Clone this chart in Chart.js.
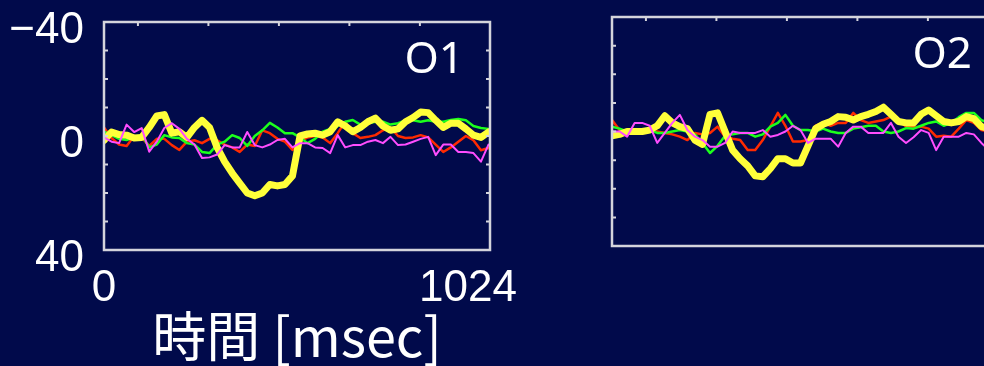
<!DOCTYPE html>
<html>
<head>
<meta charset="utf-8">
<script src="https://cdn.jsdelivr.net/npm/chart.js@4.4.1/dist/chart.umd.min.js"></script>
<style>
    html, body { margin: 0; padding: 0; background: #010a4b; overflow: hidden; width: 984px; height: 366px; }
    #o1 { position: absolute; left: 0; top: 0; }
    #o2 { position: absolute; left: 600px; top: 0; }
</style>
</head>
<body>
<canvas id="o1" width="560" height="366"></canvas>
<canvas id="o2" width="410" height="366"></canvas>
<script>
// time axis (msec)
const times = [0, 20, 40, 60, 80, 100, 120, 140, 160, 180, 200, 220, 240, 260, 280, 300, 320, 340, 360, 380,
    400, 420, 440, 460, 480, 500, 520, 540, 560, 580, 600, 620, 640, 660, 680, 700, 720, 740, 760, 780,
    800, 820, 840, 860, 880, 900, 920, 940, 960, 980, 1000, 1020];

const xLabels = [0, 1024];
const yLabels = [-40, 0, 40];
const xMarks = [90, 277, 464, 651, 838];
const yMarks = [-30, -20, -10, 0, 10, 20, 30];

// O1
const o1Yellow = [1.5, -1.4, -0.5, -0.3, 0.7, 0.5, -3, -7, -7.5, -1, -1.5, 0.5, -3, -5.5, -3, 4, 9, 13, 16.5, 20,
    21, 20, 17, 17.5, 17, 14, 0, -0.7, -1, -0.3, -1.5, -5, -3.5, -1.5, -3, -5, -6.3, -3.5, -2, -2.5,
    -5, -6.5, -8.4, -8.2, -5.5, -3, -4.5, -4.5, -2.5, -0.3, 0.5, -1.4];
const o1Red = [-3, 0.7, 3, 3.5, 0, 0.5, 3.5, 1, 1, 3.2, 4.9, 2, 1.5, 2.5, 1, 1.5, 3, 4, 5.6, 3,
    3.5, -2, -1, 1, 2, 4.9, 2, 0.5, 0, 0.5, 2.5, -1, -5, -1, 0.7, 0.3, -0.3, -2, -3, 0,
    0.7, 0.5, -0.3, 0.5, 3, 5.6, 4, 2, 0, 1.5, 5, 4.2];
const o1Green = [-1.5, -0.3, 1, 1.4, 0.5, -0.5, 4, 3, -0.3, 0.5, 0.7, 2.5, 3, 5.6, 6, 3, 2, -0.3, 0.7, 3.5,
    0, -2, -4.6, -3, -1, -1, 0.5, 2.5, 1, -1.5, -2.5, -3.5, -5, -5.6, -4, -4.5, -5, -5, -4, -4.5,
    -5.5, -5.5, -5, -5.5, -5, -5, -5.6, -6, -5.5, -3.5, -2.8, -2.5];
const o1Magenta = [0.5, 2, 2.5, -4, -1.4, -2.8, 5.5, 2, -2.8, -4.5, -2.5, 1, 3, 7.7, 7.5, 6.5, 3.2, 4, 4, -1.4,
    3.2, 4, 3, 1.4, 1, 4, 2.5, 2.5, 4, 4.2, 6, -0.3, 4, 3.2, 3.2, 2, 1.4, 2.5, 0.3, 3.2,
    3, 2, 1, 0.3, 6.7, 3, 3, 5.6, 5.6, 6, 9, 3];

// O2
const o2Yellow = [1.5, 1, 0, 0, 0, -0.5, -2, -5.5, -3, -1.7, -1, 3, 4.5, -6, -6.5, 0, 6.5, 9.5, 12, 15.5,
    15.8, 13, 9.5, 9.5, 11, 11, 5, -1, -2.5, -3.5, -5.2, -5, -4, -5.2, -6, -7, -8.5, -6, -3.5, -3,
    -3, -6, -7.5, -5.5, -3.5, -3, -3.5, -5.2, -4.5, -1.7, -1, -1];
const o2Red = [-4, -0.5, 0, 0.5, -0.5, 0, 0, 0.5, 1, 1.8, 3, 0.5, 1, 0.5, -1.7, 1.8, 2.5, 3, 6.5, 6.5,
    3, -1.7, -6.5, -2, 3.5, 3.5, 3, -2, -3, -2, -3, -3, -6.5, -4, -3, -3.5, -4, -5.2, -4, -1.7,
    -1.5, -1.7, -1, 1.8, 1.5, 1.8, -1, -4, -3, -0.5, 0, 0];
const o2Green = [-1.7, -1, 0, 0, 0.5, -0.5, 0.5, 0.5, 0, -0.5, 0, 1, 4, 7.5, 5, 1.5, 1, 0.5, 0.5, 1.8,
    1, -1.7, -3, -5.8, -2, -0.5, -0.5, 0, -1, 0, 0.5, 0.5, -1, -1.5, -2, -2, 0, 0.5, 0, -1.2,
    -1, -2, -3, -3.5, -2, -3, -5, -6.5, -6.5, -4, -3, -3];
const o2Magenta = [0, 0, 1.8, -3, -3, -2, 4, 0.5, -3, -5.8, -0.5, 1.8, 3, 5.3, 5.3, 4, 0, 0.5, 0.5, 0.5,
    -0.5, 1.8, 1.2, 0, -2, -0.5, 4, 2.5, 2.5, 2.5, 5.3, 0.5, -1.7, -1.7, 0.5, 0.5, 0.5, -3, 1.8, 4,
    2, -0.5, 0.5, 6.5, 1.8, 1.8, 1.8, 0.5, 1, 4, 6.5, 4];

const frameColor = '#d4d4dc';
const tickFont = { family: "'Liberation Sans', Arial, sans-serif", size: 44 };

function series(values) {
    return values.map((v, i) => ({ x: times[i], y: v }));
}

function makeDatasets(yellow, red, green, magenta) {
    // first dataset ends up on top
    return [
        { data: series(magenta), borderColor: '#ff4dff', borderWidth: 2 },
        { data: series(yellow), borderColor: '#ffff3a', borderWidth: 7 },
        { data: series(green), borderColor: '#1cff1c', borderWidth: 2.5 },
        { data: series(red), borderColor: '#ff2a00', borderWidth: 2.5 }
    ];
}

const frame = {
    id: 'frame',
    afterDraw(chart, args, opts) {
        const { ctx, chartArea: a, scales } = chart;
        ctx.save();
        ctx.strokeStyle = frameColor;
        ctx.lineWidth = 2.5;
        ctx.strokeRect(a.left, a.top, a.width, a.height);
        ctx.lineWidth = 2;
        yMarks.forEach(v => {
            const p = scales.y.getPixelForValue(v);
            ctx.beginPath();
            ctx.moveTo(a.left, p); ctx.lineTo(a.left + 4, p);
            ctx.moveTo(a.right, p); ctx.lineTo(a.right - 4, p);
            ctx.stroke();
        });
        xMarks.forEach(v => {
            const p = scales.x.getPixelForValue(v);
            ctx.beginPath();
            ctx.moveTo(p, a.top); ctx.lineTo(p, a.top + 4);
            ctx.stroke();
        });
        ctx.fillStyle = '#ffffff';
        ctx.font = "44px 'Noto Sans', sans-serif";
        ctx.textAlign = 'right';
        ctx.textBaseline = 'middle';
        ctx.fillText(opts.label, a.right - 26, a.top + 38);
        ctx.restore();
    }
};

const common = {
    responsive: false,
    animation: false,
    plugins: { legend: { display: false }, tooltip: { enabled: false } },
    elements: { point: { radius: 0 }, line: { tension: 0, borderJoinStyle: 'round', borderCapStyle: 'round' } }
};

new Chart(document.getElementById('o1'), {
    type: 'line',
    data: { datasets: makeDatasets(o1Yellow, o1Red, o1Green, o1Magenta) },
    options: {
        ...common,
        layout: { padding: { top: 22, right: 70, left: 0, bottom: 0 } },
        plugins: { ...common.plugins, frame: { label: 'O1' } },
        scales: {
            x: {
                type: 'linear', min: 0, max: 1024,
                afterBuildTicks: s => { s.ticks = xLabels.map(v => ({ value: v })); },
                afterFit: s => { s.height = 116; s.paddingLeft = 0; s.paddingRight = 0; },
                grid: { display: false },
                border: { display: false },
                ticks: {
                    color: '#ffffff', font: tickFont, padding: 4, maxRotation: 0, autoSkip: false,
                    callback: v => v === 1024 ? '1024\u2002\u2002' : String(v)
                },
                title: {
                    display: true, text: '時間 [msec]', color: '#ffffff', padding: { top: 0, bottom: -3 },
                    font: { family: "'Noto Sans CJK JP', 'Noto Sans', sans-serif", size: 54 }
                }
            },
            y: {
                type: 'linear', min: -40, max: 40, reverse: true,
                afterBuildTicks: s => { s.ticks = yLabels.map(v => ({ value: v })); },
                afterFit: s => { s.width = 104; s.paddingTop = 0; s.paddingBottom = 0; },
                grid: { display: false },
                border: { display: false },
                ticks: {
                    color: '#ffffff', font: tickFont, padding: 12, labelOffset: 9,
                    callback: v => v < 0 ? '\u2212' + Math.abs(v) : String(v)
                }
            }
        }
    },
    plugins: [frame]
});

new Chart(document.getElementById('o2'), {
    type: 'line',
    data: { datasets: makeDatasets(o2Yellow, o2Red, o2Green, o2Magenta) },
    options: {
        ...common,
        layout: { padding: { top: 17, right: 12, left: 12, bottom: 120 } },
        plugins: { ...common.plugins, frame: { label: 'O2' } },
        scales: {
            x: { type: 'linear', min: 0, max: 1024, display: false },
            y: { type: 'linear', min: -40, max: 40, reverse: true, display: false }
        }
    },
    plugins: [frame]
});
</script>
</body>
</html>
